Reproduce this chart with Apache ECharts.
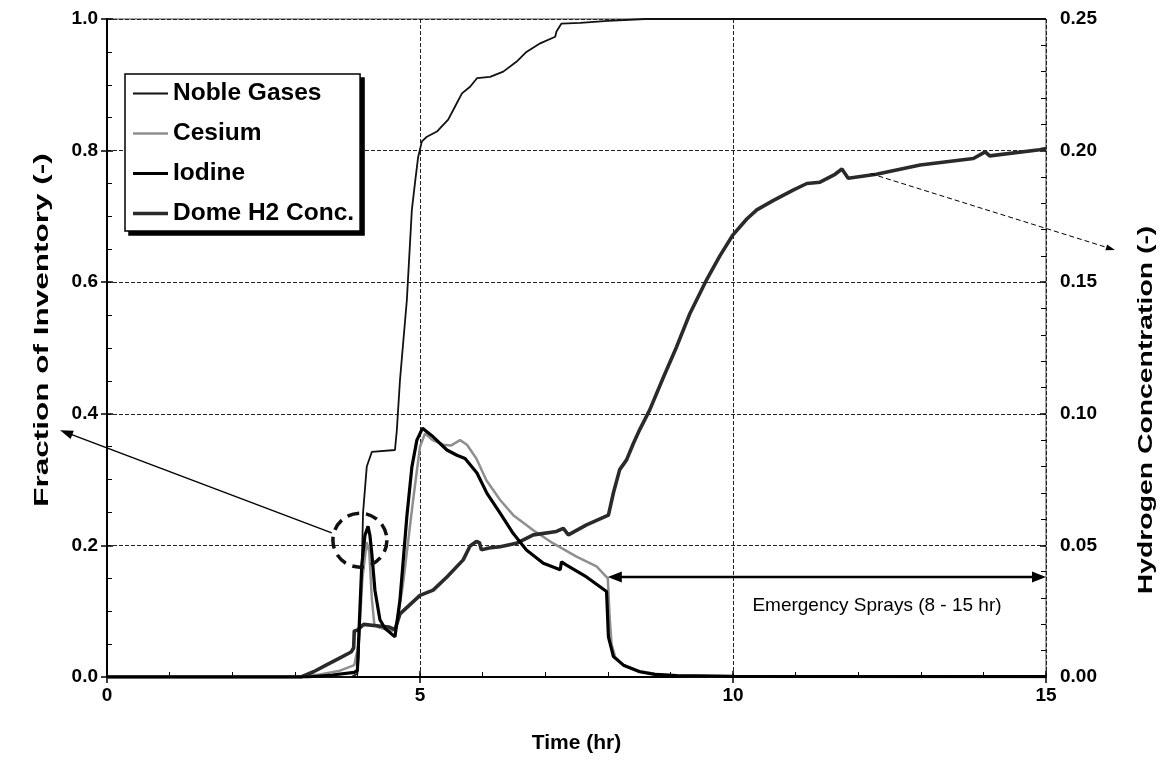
<!DOCTYPE html>
<html><head><meta charset="utf-8">
<script src="https://cdn.jsdelivr.net/npm/echarts@6/dist/echarts.min.js"></script>
<style>html,body{margin:0;padding:0;background:#fff}#c{width:1165px;height:770px}</style>
</head><body><div id="c"></div>
<script>
// ---- data (time in hr, value) ----
const seriesNames = ['Noble Gases', 'Cesium', 'Iodine', 'Dome H2 Conc.'];
const xTickValues = [0, 5, 10, 15];
const leftTickValues = [0, 0.2, 0.4, 0.6, 0.8, 1.0];
const rightTickValues = [0, 0.05, 0.10, 0.15, 0.20, 0.25];
const xTitle = 'Time (hr)';
const leftTitle = 'Fraction of Inventory (-)';
const rightTitle = 'Hydrogen Concentration (-)';

const nobleGases = [[0,0],[3.9,0],[4.0,0.005],[4.02,0.03],[4.05,0.12],[4.07,0.168],[4.09,0.249],[4.15,0.32],[4.23,0.342],
  [4.6,0.345],[4.63,0.375],[4.68,0.451],[4.79,0.573],[4.87,0.71],[4.92,0.751],[4.97,0.79],[5.03,0.814],[5.11,0.821],
  [5.27,0.829],[5.45,0.847],[5.56,0.867],[5.67,0.887],[5.8,0.897],[5.91,0.91],[6.12,0.912],[6.33,0.92],[6.54,0.935],
  [6.7,0.95],[6.92,0.963],[7.16,0.973],[7.18,0.981],[7.26,0.993],[7.56,0.994],[8.0,0.997],[8.6,1.0],[15,1.0]];

const cesium = [[0,0],[3.1,0],[3.4,0.004],[3.7,0.009],[3.95,0.018],[4.02,0.05],[4.08,0.15],[4.15,0.205],[4.19,0.19],
  [4.23,0.12],[4.27,0.08],[4.35,0.075],[4.55,0.07],[4.62,0.075],[4.73,0.142],[4.89,0.269],[5.0,0.35],[5.08,0.37],
  [5.2,0.36],[5.37,0.353],[5.5,0.352],[5.64,0.36],[5.75,0.353],[5.9,0.332],[6.06,0.299],[6.28,0.269],[6.49,0.246],
  [6.81,0.223],[7.13,0.203],[7.5,0.183],[7.82,0.168],[8.0,0.15],[8.03,0.09],[8.06,0.05],[8.12,0.03],[8.25,0.018],
  [8.5,0.009],[8.75,0.005],[9.1,0.002],[10,0.001],[15,0.0005]];

const iodine = [[0,0],[3.2,0],[3.6,0.003],[3.95,0.007],[4.0,0.01],[4.03,0.08],[4.07,0.17],[4.12,0.215],[4.17,0.229],
  [4.2,0.215],[4.23,0.188],[4.28,0.132],[4.36,0.087],[4.44,0.074],[4.6,0.061],[4.68,0.117],[4.79,0.244],[4.87,0.319],
  [4.95,0.36],[5.04,0.378],[5.21,0.365],[5.43,0.345],[5.59,0.337],[5.72,0.332],[5.91,0.31],[6.07,0.279],[6.28,0.249],
  [6.49,0.218],[6.7,0.193],[6.97,0.173],[7.24,0.163],[7.26,0.175],[7.34,0.17],[7.66,0.152],[7.98,0.13],[8.01,0.061],
  [8.09,0.031],[8.25,0.018],[8.51,0.008],[8.75,0.004],[9.1,0.002],[10,0.001],[15,0.0005]];

const domeH2 = [[0,0],[3.1,0],[3.3,0.002],[3.5,0.0045],[3.7,0.007],[3.9,0.0095],[3.94,0.011],[3.95,0.0175],[4.0,0.0178],
  [4.1,0.02],[4.3,0.0195],[4.5,0.019],[4.6,0.018],[4.68,0.024],[5.0,0.031],[5.21,0.033],[5.43,0.038],[5.69,0.0445],
  [5.8,0.0498],[5.9,0.0515],[5.95,0.051],[5.98,0.0483],[6.1,0.049],[6.28,0.0495],[6.54,0.0508],[6.81,0.054],
  [7.18,0.0553],[7.29,0.0565],[7.37,0.054],[7.66,0.0578],[8.01,0.0615],[8.09,0.07],[8.19,0.0788],[8.3,0.0825],
  [8.41,0.0888],[8.51,0.094],[8.67,0.1015],[8.89,0.114],[9.1,0.1255],[9.31,0.138],[9.58,0.151],[9.79,0.16],
  [10.0,0.168],[10.22,0.174],[10.38,0.1775],[10.64,0.181],[10.96,0.185],[11.18,0.1875],[11.39,0.188],[11.63,0.191],
  [11.74,0.193],[11.84,0.1895],[12.29,0.191],[12.99,0.1945],[13.84,0.197],[14.03,0.1995],[14.1,0.198],[14.9,0.2003],[15,0.2008]];

const sprayLabel = 'Emergency Sprays (8 - 15 hr)';
const sprayStart = 8, sprayEnd = 15;

// ---- styling ----
const colors = ['#111', '#8f8f8f', '#000', '#2a2a2a'];
const widths = [1.8, 2.5, 3.2, 3.6];
const legendIcon = w => {
  const a = (7 - w / 2).toFixed(2), b = (7 + w / 2).toFixed(2);
  return 'path://M0,0M35,14M0,' + a + 'H35V' + b + 'H0Z';
};

const chart = echarts.init(document.getElementById('c'), null, {renderer: 'canvas'});
const tickFont = {fontFamily: "'Liberation Sans', Arial, sans-serif", fontWeight: 'bold', fontSize: 19, color: '#000'};
const titleFont = "bold 21px 'Liberation Sans', Arial, sans-serif";
const dashGrid = {show: true, lineStyle: {type: [4, 2], color: '#222', width: 1}};

const option = {
  animation: false,
  backgroundColor: '#fff',
  grid: {left: 107, right: 119, top: 19, bottom: 93, show: true, borderColor: '#444', borderWidth: 1, backgroundColor: 'transparent'},
  legend: {
    orient: 'vertical', left: 125, top: 74,
    data: seriesNames.map((n, i) => ({name: n, icon: legendIcon(widths[i]), itemStyle: {color: colors[i]}})),
    itemWidth: 35, itemHeight: 14, itemGap: 15,
    padding: [7, 6, 5, 8],
    backgroundColor: '#fff', borderColor: '#000', borderWidth: 1.5,
    textStyle: {fontFamily: "'Liberation Sans', Arial, sans-serif", fontWeight: 'bold', fontSize: 24.5, color: '#000'}
  },
  xAxis: [
    {type: 'value', min: 0, max: 15, interval: 5, position: 'bottom',
     name: xTitle, nameLocation: 'middle', nameGap: 56,
     nameTextStyle: {fontFamily: "'Liberation Sans', Arial, sans-serif", fontWeight: 'bold', fontSize: 21, color: '#000'},
     axisLine: {lineStyle: {color: '#000', width: 2}},
     axisTick: {show: true, length: 6, lineStyle: {color: '#000', width: 1.5}},
     axisLabel: Object.assign({margin: 9, formatter: v => xTickValues.includes(v) ? String(v) : ''}, tickFont),
     splitLine: dashGrid},
    {type: 'value', min: 0, max: 15, interval: 5, position: 'bottom',
     axisLine: {show: false}, axisLabel: {show: false}, splitLine: {show: false},
     axisTick: {show: true, inside: true, length: 6, lineStyle: {color: '#000', width: 1.5}},
     minorTick: {show: true, splitNumber: 5, length: 5, lineStyle: {color: '#000', width: 1}}}
  ],
  yAxis: [
    {type: 'value', min: 0, max: 1, interval: 0.2, position: 'left',
     axisLine: {show: true, lineStyle: {color: '#000', width: 2}},
     axisTick: {show: true, length: 6, lineStyle: {color: '#000', width: 1.5}},
     axisLabel: Object.assign({margin: 9, formatter: v => leftTickValues.some(t => Math.abs(t - v) < 1e-9) ? v.toFixed(1) : ''}, tickFont),
     splitLine: dashGrid},
    {type: 'value', min: 0, max: 0.25, interval: 0.05, position: 'right',
     axisLine: {show: true, lineStyle: {color: '#000', width: 2}},
     axisTick: {show: true, length: 6, lineStyle: {color: '#000', width: 1.5}},
     axisLabel: Object.assign({margin: 14, formatter: v => rightTickValues.some(t => Math.abs(t - v) < 1e-9) ? v.toFixed(2) : ''}, tickFont),
     splitLine: {show: false}},
    {type: 'value', min: 0, max: 1, interval: 0.2, position: 'left',
     axisLine: {show: false}, axisLabel: {show: false}, splitLine: {show: false},
     axisTick: {show: true, inside: true, length: 6, lineStyle: {color: '#000', width: 1.5}},
     minorTick: {show: true, splitNumber: 4, length: 5, lineStyle: {color: '#000', width: 1}}},
    {type: 'value', min: 0, max: 0.25, interval: 0.05, position: 'right',
     axisLine: {show: false}, axisLabel: {show: false}, splitLine: {show: false},
     axisTick: {show: true, inside: true, length: 6, lineStyle: {color: '#000', width: 1.5}},
     minorTick: {show: true, splitNumber: 5, length: 5, lineStyle: {color: '#000', width: 1}}}
  ],
  series: [
    {name: seriesNames[0], type: 'line', data: nobleGases, xAxisIndex: 0, yAxisIndex: 0, symbol: 'none', z: 4,
     lineStyle: {color: colors[0], width: widths[0]}, itemStyle: {color: colors[0]}},
    {name: seriesNames[1], type: 'line', data: cesium, xAxisIndex: 0, yAxisIndex: 0, symbol: 'none', z: 3,
     lineStyle: {color: colors[1], width: widths[1]}, itemStyle: {color: colors[1]}},
    {name: seriesNames[2], type: 'line', data: iodine, xAxisIndex: 0, yAxisIndex: 0, symbol: 'none', z: 5,
     lineStyle: {color: colors[2], width: widths[2]}, itemStyle: {color: colors[2]}},
    {name: seriesNames[3], type: 'line', data: domeH2, xAxisIndex: 0, yAxisIndex: 1, symbol: 'none', z: 4,
     lineStyle: {color: colors[3], width: widths[3]}, itemStyle: {color: colors[3]}}
  ]
};
chart.setOption(option);

// ---- annotations (anchor points given in data space, converted by the chart) ----
const P = v => chart.convertToPixel({xAxisIndex: 0, yAxisIndex: 0}, v);
function arrowHead(from, to, len, half) {
  const dx = to[0] - from[0], dy = to[1] - from[1];
  const d = Math.hypot(dx, dy), ux = dx / d, uy = dy / d;
  const bx = to[0] - ux * len, by = to[1] - uy * len;
  return [[to[0], to[1]], [bx - uy * half, by + ux * half], [bx + uy * half, by - ux * half]];
}
function arrow(a, b, opts) {
  const els = [];
  const dx = b[0] - a[0], dy = b[1] - a[1], d = Math.hypot(dx, dy);
  const ux = dx / d, uy = dy / d;
  const s = opts.both ? [a[0] + ux * opts.len * 0.8, a[1] + uy * opts.len * 0.8] : a;
  const e = [b[0] - ux * opts.len * 0.8, b[1] - uy * opts.len * 0.8];
  els.push({type: 'line', shape: {x1: s[0], y1: s[1], x2: e[0], y2: e[1]},
    style: {stroke: '#000', lineWidth: opts.width, lineDash: opts.dash || null}, z: 100});
  els.push({type: 'polygon', shape: {points: arrowHead(a, b, opts.len, opts.half)}, style: {fill: '#000'}, z: 100});
  if (opts.both) els.push({type: 'polygon', shape: {points: arrowHead(b, a, opts.len, opts.half)}, style: {fill: '#000'}, z: 100});
  return els;
}

// legend drop shadow (drawn as a separate black box behind the legend)
let lb = {x: 125, y: 74, w: 237, h: 153};
try {
  const v = chart._componentsViews.find(cv => cv && cv.__model && cv.__model.mainType === 'legend');
  const r = v.group.getBoundingRect();
  lb = {x: v.group.x + r.x, y: v.group.y + r.y, w: r.width, h: r.height};
} catch (e) {}

const c = P([4.04, 0.208]);
const grid = {l: P([0, 0])[0], r: P([15, 0])[0], t: P([0, 1])[1], b: P([0, 0])[1]};
const graphics = [
  {type: 'rect', shape: {x: lb.x + 4, y: lb.y + 4, width: lb.w, height: lb.h}, style: {fill: '#000'}, z: 3.5, zlevel: 0},
  {type: 'circle', shape: {cx: c[0], cy: c[1], r: 27}, style: {fill: 'none', stroke: '#111', lineWidth: 3.5, lineDash: [12, 7]}, z: 100},
  {type: 'text', x: 42, y: (grid.t + grid.b) / 2 - 18, rotation: Math.PI / 2, scaleX: 1.5, z: 100,
   style: {text: leftTitle, font: titleFont, fill: '#000', align: 'center', verticalAlign: 'middle'}},
  {type: 'text', x: 1146, y: (grid.t + grid.b) / 2 + 62, rotation: Math.PI / 2, scaleX: 1.35, z: 100,
   style: {text: rightTitle, font: titleFont, fill: '#000', align: 'center', verticalAlign: 'middle'}}
].concat(
  arrow(P([3.59, 0.219]), P([-0.75, 0.375]), {width: 1.4, len: 13, half: 4.5}),
  arrow(P([12.2, 0.765]), P([16.1, 0.649]), {width: 1, len: 9, half: 3, dash: [5, 3]}),
  arrow(P([sprayStart, 0.152]), P([sprayEnd, 0.152]), {width: 2.5, len: 14, half: 5.5, both: true}),
  [{type: 'text', x: P([12.3, 0.109])[0], y: P([12.3, 0.109])[1], z: 100,
    style: {text: sprayLabel, fill: '#000', font: "19px 'Liberation Sans', Arial, sans-serif", align: 'center', verticalAlign: 'middle'}}]
);
chart.setOption({graphic: graphics});
</script></body></html>
